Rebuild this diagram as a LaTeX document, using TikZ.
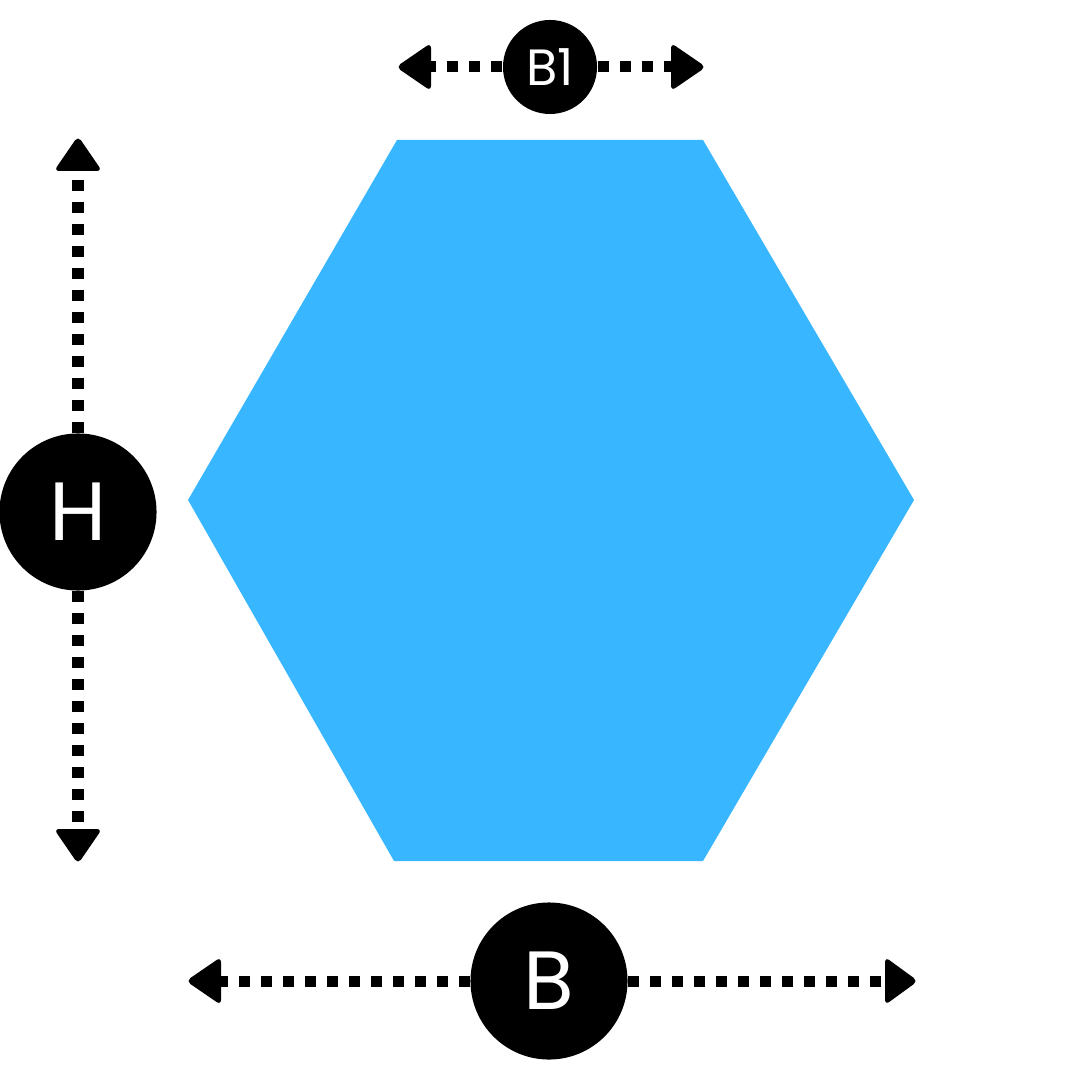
\documentclass[tikz,border=0pt]{standalone}
\usepackage{fontspec}
\setmainfont{Poppins}
\begin{document}
\begin{tikzpicture}[x=0.01cm,y=-0.01cm]
\def\px{0.2845pt}
\definecolor{hexblue}{HTML}{38B6FF}
\tikzset{
  label circle/.style={circle,fill=black,text=white,inner sep=0pt,font=\fontsize{23.5}{24}\selectfont},
  small circle/.style={circle,fill=black,text=white,inner sep=0pt,font=\fontsize{14.5}{15}\selectfont},
  dotline/.style={line width=11*\px,dash pattern=on 11*\px off 11*\px},
  tipfill/.style={fill=black,rounded corners=1.5pt}
}
\fill[white] (0,0) rectangle (1080,1080);
\useasboundingbox (0,0) rectangle (1080,1080);
% hexagon
\fill[hexblue] (397,140) -- (703,140) -- (914,500) -- (703,861) -- (394,861) -- (188,500) -- cycle;
% circles
\node[small circle,minimum size=94*\px] (b1) at (550,67) {B1};
\node[label circle,minimum size=157*\px] (h) at (78,512) {H};
\node[label circle,minimum size=157*\px] (b) at (549,981) {B};
% coordinates (arrow bases)
\coordinate (b1l) at (428,67);
\coordinate (b1r) at (674,67);
\coordinate (ht) at (78,172);
\coordinate (hb) at (78,829);
\coordinate (bl) at (218,981);
\coordinate (br) at (888,981);
% dashed connectors
\draw[dotline] (b1.west) -- (b1l);
\draw[dotline] (b1.east) -- (b1r);
\draw[dotline] (h.north) -- (ht);
\draw[dotline] (h.south) -- (hb);
\draw[dotline] (b.west) -- (bl);
\draw[dotline] (b.east) -- (br);
% arrow tips
\fill[tipfill] (396,67) -- (431,43) -- (431,91) -- cycle;
\fill[tipfill] (706,67) -- (671,43) -- (671,91) -- cycle;
\fill[tipfill] (78,136) -- (54,171) -- (102,171) -- cycle;
\fill[tipfill] (78,864) -- (54,829) -- (102,829) -- cycle;
\fill[tipfill] (186,981) -- (221,957) -- (221,1005) -- cycle;
\fill[tipfill] (918,981) -- (885,957) -- (885,1005) -- cycle;
\end{tikzpicture}
\end{document}
